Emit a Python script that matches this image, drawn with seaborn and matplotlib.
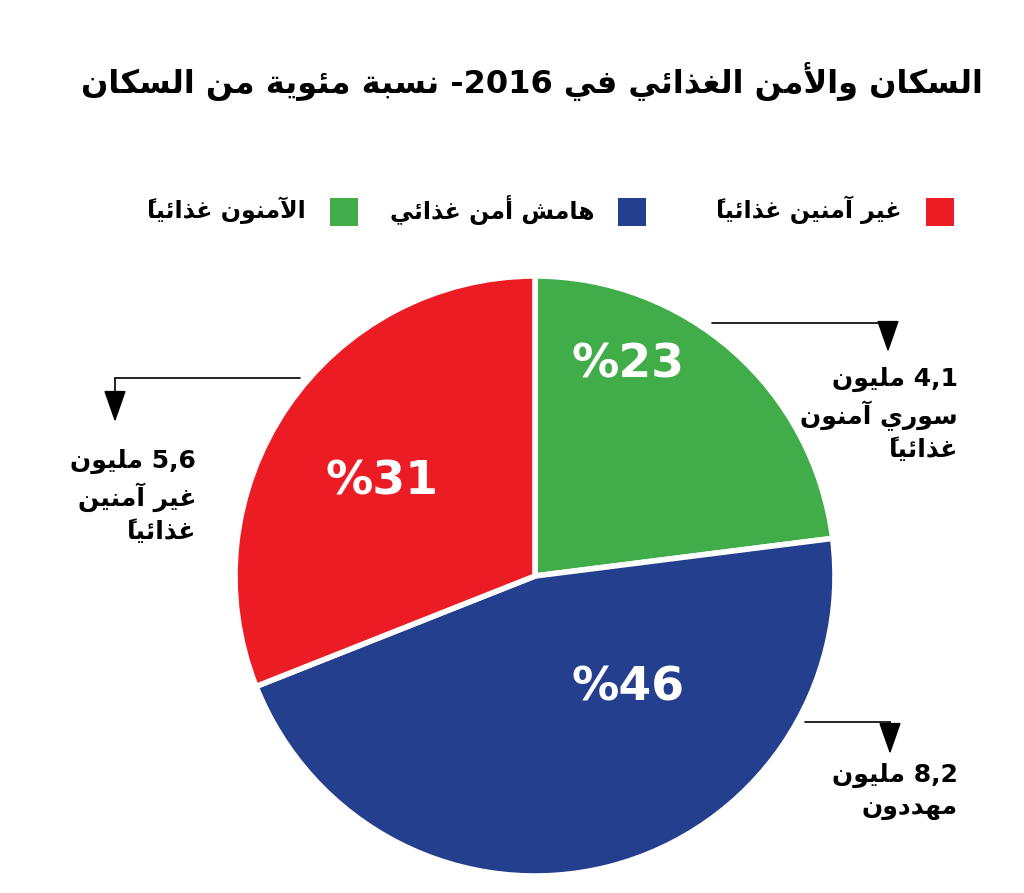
import matplotlib
matplotlib.use("Agg")
import matplotlib.pyplot as plt
import seaborn as sns

# Data
categories = ["الآمنون غذائياً", "هامش أمن غذائي", "غير آمنين غذائياً"]
shares = [23, 46, 31]
pct_labels = ["%23", "%46", "%31"]
notes = [
    ["4,1 مليون", "سوري آمنون", "غذائياً"],
    ["8,2 مليون", "مهددون"],
    ["5,6 مليون", "غير آمنين", "غذائياً"],
]
title = "السكان والأمن الغذائي في 2016- نسبة مئوية من السكان"
colors = ["#40AD49", "#243F8E", "#EC1C24"]

# --- tiny arabic shaper (matplotlib has no shaping / bidi) ---
_letters = "ءآأؤإئابةتثجحخدذرزسشصضطظعغفقكلمنهوىي"
_nforms = {c: 2 for c in "آأؤإادذرزةوى"}
_nforms["ء"] = 1
FORMS = {}
code = 0xFE80
for c in _letters:
    n = _nforms.get(c, 4)
    FORMS[c] = [chr(code + i) for i in range(n)]
    code += n
LAMALEF = {"آ": (0xFEF5, 0xFEF6), "أ": (0xFEF7, 0xFEF8),
           "إ": (0xFEF9, 0xFEFA), "ا": (0xFEFB, 0xFEFC)}
MARKS = set(chr(c) for c in range(0x064B, 0x0653))


def shape_word(w):
    cl = []
    for ch in w:
        if ch in MARKS and cl:
            cl[-1][1] += ch
        else:
            cl.append([ch, ""])
    merged = []
    i = 0
    while i < len(cl):
        if cl[i][0] == "ل" and i + 1 < len(cl) and cl[i + 1][0] in LAMALEF:
            merged.append(["LA" + cl[i + 1][0], cl[i][1] + cl[i + 1][1]])
            i += 2
        else:
            merged.append(cl[i])
            i += 1

    def dual(c):
        return c in FORMS and len(FORMS[c]) == 4

    def joinable(c):
        return c.startswith("LA") or (c in FORMS and len(FORMS[c]) > 1)

    out = []
    for k, (c, m) in enumerate(merged):
        prev = merged[k - 1][0] if k > 0 else None
        nxt = merged[k + 1][0] if k + 1 < len(merged) else None
        jp = prev is not None and dual(prev) and joinable(c)
        if c.startswith("LA"):
            iso, fin = LAMALEF[c[2]]
            g = chr(fin if jp else iso)
        elif c in FORMS:
            f = FORMS[c]
            jn = dual(c) and nxt is not None and joinable(nxt)
            if len(f) == 4:
                g = f[3] if (jp and jn) else f[2] if jn else f[1] if jp else f[0]
            elif len(f) == 2:
                g = f[1] if jp else f[0]
            else:
                g = f[0]
        else:
            g = c
        # mark goes before its base so it lands on it when drawn left-to-right
        out.append(m + g)
    return "".join(reversed(out))


def is_ar(w):
    return any(ch in FORMS or ch in MARKS for ch in w)


def ar(s):
    # right-to-left: shape each word and reverse the word order
    words = []
    for w in s.split(" "):
        if is_ar(w):
            words.append(shape_word(w))
        elif w.endswith("-"):
            words.append("-" + w[:-1])   # neutral dash flips side in RTL
        else:
            words.append(w)
    return " ".join(reversed(words))


sns.set_style("white")
plt.rcParams["font.family"] = ["DejaVu Sans"]
plt.rcParams["font.weight"] = "bold"
plt.rcParams["text.color"] = "black"

fig = plt.figure(figsize=(10.24, 8.93), dpi=100)

# pie axes: centre (535, 576) px, radius 300 px
W, H = 1024, 893
cx, cy, r = 535, 576, 300
ax = fig.add_axes([(cx - r) / W, (H - cy - r) / H, 2 * r / W, 2 * r / H])
wedges, _ = ax.pie(shares, colors=colors, startangle=90, counterclock=False,
                   wedgeprops=dict(edgecolor="white", linewidth=4))
ax.set_xlim(-1, 1)
ax.set_ylim(-1, 1)
ax.set_aspect("equal")

# overlay in pixel coords
ov = fig.add_axes([0, 0, 1, 1], facecolor="none")
ov.set_xlim(0, W)
ov.set_ylim(H, 0)
ov.axis("off")

ov.text(532, 82, ar(title), ha="center", va="center", fontsize=23,
        fontweight="bold", color="black")

# legend: square to the right of each label
leg_sq_x = [344, 632, 940]
leg_txt_x = [306, 594, 902]
for i in range(3):
    ov.add_patch(plt.Rectangle((leg_sq_x[i] - 14, 198), 28, 28,
                               facecolor=colors[i], edgecolor="none"))
    ov.text(leg_txt_x[i], 210, ar(categories[i]), ha="right", va="center",
            fontsize=17, fontweight="bold", color="black")

# percent labels
pct_pos = [(628, 365), (628, 688), (382, 482)]
for (x, y), lab in zip(pct_pos, pct_labels):
    ov.text(x, y, lab, ha="center", va="center", color="white",
            fontsize=34, fontweight="bold")

# callouts
lines = [((712, 323), (888, 323), (888, 352)),
         ((805, 722), (890, 722), (890, 754)),
         ((300, 378), (115, 378), (115, 422))]
note_pos = [(958, 367), (958, 763), (196, 449)]
for (a, b, c), (tx, ty), note in zip(lines, note_pos, notes):
    ov.plot([a[0], b[0]], [a[1], b[1]], color="black", lw=1.2)
    ov.annotate("", xy=c, xytext=b,
                arrowprops=dict(arrowstyle="-|>,head_width=0.35,head_length=1.0",
                                color="black", lw=1.2, shrinkA=0, shrinkB=0,
                                mutation_scale=20))
    ov.text(tx, ty, "\n".join(ar(l) for l in note), ha="right", va="top",
            fontsize=18, fontweight="bold", linespacing=1.35, color="black")

fig.savefig("out.png", dpi=100, facecolor="white")
